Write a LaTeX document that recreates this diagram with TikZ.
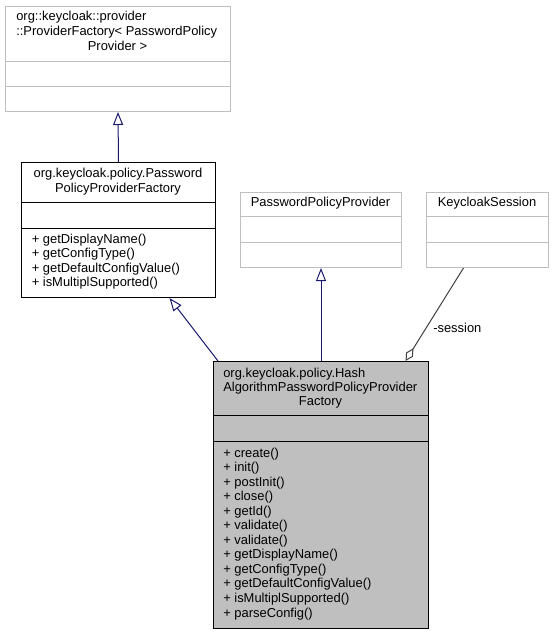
\documentclass[tikz,border=0pt]{standalone}
\usepackage{fontspec}
\setmainfont{Liberation Sans}
\usetikzlibrary{arrows.meta}
\definecolor{edgeblue}{HTML}{191970}
\definecolor{extgray}{HTML}{BFBFBF}
\definecolor{assocgray}{HTML}{404040}
\newcommand\umlfont{\fontsize{9.7}{11}\selectfont}
\tikzset{
  classbox/.style={ draw=black, fill=white, line width=0.75pt, anchor=north west, inner sep=0pt }
}
\tikzset{
  extbox/.style={ classbox, draw=extgray }
}
\tikzset{
  mainbox/.style={ classbox, fill=extgray }
}
\tikzset{
  txt/.style={ inner sep=0pt, font=\umlfont }
}
\tikzset{
  inherit/.style={ draw=edgeblue, line width=0.75pt, -{Triangle[open, length=9.75pt, width=7.5pt]} }
}
\tikzset{
  assoc/.style={ draw=assocgray, line width=0.75pt, -{Diamond[open, length=11.25pt, width=6pt]} }
}

\begin{document}
\begin{tikzpicture}[x=0.75pt, y=-0.75pt]
      \useasboundingbox (0,0) rectangle (554,633);

      % class boxes
      \node[extbox, minimum width=225*0.75pt, minimum height=105*0.75pt] (pf) at (5,6) {};
      \node[classbox, minimum width=194*0.75pt, minimum height=135*0.75pt] (ppf) at (21,162) {};
      \node[extbox, minimum width=161*0.75pt, minimum height=75*0.75pt] (pp) at (240,192) {};
      \node[extbox, minimum width=122*0.75pt, minimum height=75*0.75pt] (ks) at (426,192) {};
      \node[mainbox, minimum width=215*0.75pt, minimum height=267*0.75pt] (hpf) at (213,361) {};

      \begin{scope}[line width=0.75pt]
        \draw[extgray] (5,61) -- (230,61) (5,86) -- (230,86);
        \draw (21,202) -- (215,202) (21,228) -- (215,228);
        \draw[extgray] (240,216) -- (401,216) (240,242) -- (401,242);
        \draw[extgray] (426,216) -- (548,216) (426,242) -- (548,242);
        \draw (213,415) -- (428,415) (213,441) -- (428,441);
      \end{scope}

      \node[txt, anchor=base west] (pft1) at (16,20.5) {org::keycloak::provider};
      \node[txt, anchor=base west] (pft2) at (16,35.5) {::ProviderFactory< PasswordPolicy};
      \node[txt, anchor=base] (pft3) at (117.5,50.5) {Provider >};

      \node[txt, anchor=base] (ppft1) at (118,177.5) {org.keycloak.policy.Password};
      \node[txt, anchor=base] (ppft2) at (118,192) {PolicyProviderFactory};
      \foreach \m [count=\i from 0] in {getDisplayName(), getConfigType(), getDefaultConfigValue(), isMultiplSupported()}
        \node[txt, anchor=base west] (ppfm\i) at (31.5, 243+14.5*\i) {+ \m};

      \node[txt, anchor=base] (ppt) at (320.5,206.5) {PasswordPolicyProvider};
      \node[txt, anchor=base] (kst) at (487,206.5) {KeycloakSession};

      \node[txt, anchor=base west] (hpft1) at (223,377.5) {org.keycloak.policy.Hash};
      \node[txt, anchor=base west] (hpft2) at (223,391.5) {AlgorithmPasswordPolicyProvider};
      \node[txt, anchor=base] (hpft3) at (320.5,405.5) {Factory};
      \foreach \m [count=\i from 0] in {create(), init(), postInit(), close(), getId(), validate(), validate(),
          getDisplayName(), getConfigType(), getDefaultConfigValue(), isMultiplSupported(), parseConfig()}
        \node[txt, anchor=base west] (hpfm\i) at (223, 457+14.55*\i) {+ \m};

      % relations
      \draw[inherit] (ppf.north) -- (pf.south);
      \draw[inherit] ([xshift=3.75pt]hpf.north west) -- ([xshift=38.25pt]ppf.south);
      \draw[inherit] (hpf.north) -- (pp.south);
      \draw[assoc] ([xshift=-18pt]ks.south) -- ([xshift=63.4pt]hpf.north);
      \node[txt, anchor=base west] (sessionlbl) at (433,332) {-session};
    \end{tikzpicture}
\end{document}
